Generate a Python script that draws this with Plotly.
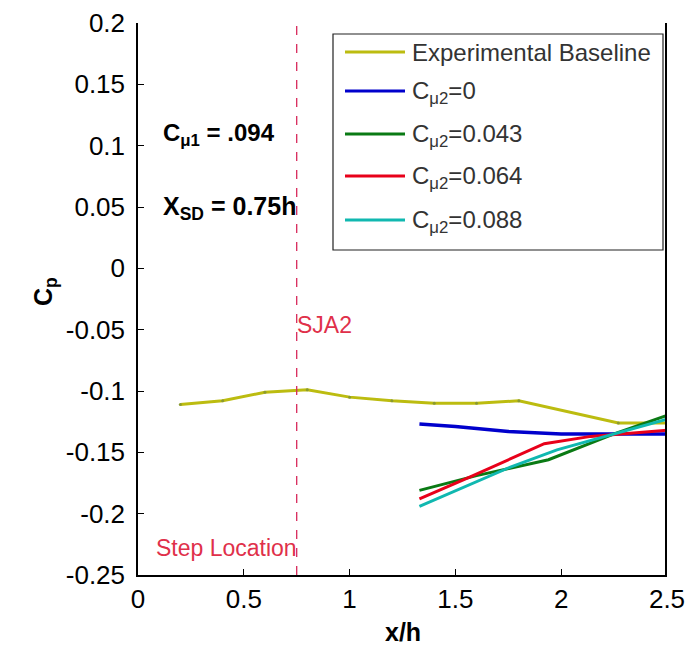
import plotly.graph_objects as go

# ---------------- data ----------------
baseline_x = [0.2, 0.4, 0.6, 0.8, 1.0, 1.2, 1.4, 1.6, 1.8, 2.27, 2.5]
baseline_y = [-0.111, -0.108, -0.101, -0.099, -0.105, -0.108, -0.110, -0.110, -0.108, -0.126, -0.126]

c0_x = [1.33, 1.5, 1.75, 2.0, 2.25, 2.5]
c0_y = [-0.127, -0.129, -0.133, -0.135, -0.135, -0.135]

c043_x = [1.33, 1.6, 1.94, 2.25, 2.5]
c043_y = [-0.181, -0.169, -0.156, -0.135, -0.120]

c064_x = [1.33, 1.57, 1.92, 2.14, 2.5]
c064_y = [-0.188, -0.170, -0.143, -0.137, -0.132]

c088_x = [1.33, 1.76, 1.98, 2.25, 2.5]
c088_y = [-0.194, -0.162, -0.148, -0.135, -0.123]

series_names = ["Experimental Baseline", "C<sub>μ2</sub>=0", "C<sub>μ2</sub>=0.043",
                "C<sub>μ2</sub>=0.064", "C<sub>μ2</sub>=0.088"]
series_colors = ["#bcbc10", "#0000cc", "#0a7a14", "#e8001a", "#10b8b0"]

x_ticks = [0, 0.5, 1, 1.5, 2, 2.5]
x_ticktext = ["0", "0.5", "1", "1.5", "2", "2.5"]
y_ticks = [-0.25, -0.2, -0.15, -0.1, -0.05, 0, 0.05, 0.1, 0.15, 0.2]
y_ticktext = ["-0.25", "-0.2", "-0.15", "-0.1", "-0.05", "0", "0.05", "0.1", "0.15", "0.2"]

step_x = 0.75

FONT = "Liberation Sans, Arial, sans-serif"

# plot-area geometry (pixels)
L, R, T, B = 138, 667, 23, 575
W, H = 693, 646


def pxx(px):
    return (px - L) / (R - L)


def pxy(py):
    return (B - py) / (B - T)


fig = go.Figure()

all_series = [(baseline_x, baseline_y), (c0_x, c0_y), (c043_x, c043_y),
              (c064_x, c064_y), (c088_x, c088_y)]
widths = [3, 3.5, 3, 3, 3]
for i, (xs, ys) in enumerate(all_series):
    fig.add_trace(go.Scatter(
        x=xs, y=ys, mode="lines+markers" if i == 0 else "lines",
        line=dict(color=series_colors[i], width=widths[i]),
        marker=dict(size=3, color="#8a9a30") if i == 0 else None,
        showlegend=False, name=series_names[i]))

shapes = []
# dashed step line
shapes.append(dict(type="line", xref="x", yref="paper", x0=step_x, x1=step_x, y0=0, y1=1,
                   line=dict(color="#d8285a", width=1.3, dash="dash")))
# thick right edge
shapes.append(dict(type="line", xref="x", yref="paper", x0=2.5, x1=2.5, y0=0, y1=1,
                   line=dict(color="black", width=4)))

# manual legend
leg_rows = [52, 91, 134, 176, 220]
shapes.append(dict(type="rect", xref="paper", yref="paper",
                   x0=pxx(333), x1=pxx(663), y0=pxy(250), y1=pxy(34),
                   line=dict(color="#222", width=1.2), fillcolor="white", layer="above"))
annotations = []
for i, row in enumerate(leg_rows):
    shapes.append(dict(type="line", xref="paper", yref="paper",
                       x0=pxx(345), x1=pxx(405), y0=pxy(row), y1=pxy(row),
                       line=dict(color=series_colors[i], width=3), layer="above"))
    annotations.append(dict(xref="paper", yref="paper", x=pxx(410), y=pxy(row),
                            xanchor="left", yanchor="middle", showarrow=False,
                            yshift=0 if i == 0 else -1,
                            text=series_names[i], font=dict(family=FONT, size=24, color="#333")))

annotations += [
    dict(x=0.11, y=0.111, xref="x", yref="y", xanchor="left", yanchor="middle",
         showarrow=False, yshift=-2, text="<b>C<sub>μ1</sub> = .094</b>",
         font=dict(family=FONT, size=24, color="black")),
    dict(x=0.11, y=0.05, xref="x", yref="y", xanchor="left", yanchor="middle",
         showarrow=False, yshift=-1, text="<b>X<sub>SD</sub> = 0.75h</b>",
         font=dict(family=FONT, size=25, color="black")),
    dict(x=step_x, y=-0.046, xref="x", yref="y", xanchor="left", yanchor="middle",
         showarrow=False, xshift=-2, text="SJA2",
         font=dict(family=FONT, size=23, color="#e0304a")),
    dict(x=step_x, y=-0.228, xref="x", yref="y", xanchor="right", yanchor="middle",
         showarrow=False, xshift=2, text="Step Location",
         font=dict(family=FONT, size=23, color="#e0304a")),
    dict(x=pxx(45), y=pxy(292), xref="paper", yref="paper", xanchor="center", yanchor="middle",
         showarrow=False, textangle=-90, text="<b>C<sub>p</sub></b>",
         font=dict(family=FONT, size=25, color="black")),
    dict(x=0.5, y=pxy(632), xref="paper", yref="paper", xanchor="center", yanchor="middle",
         showarrow=False, text="<b>x/h</b>",
         font=dict(family=FONT, size=25, color="black")),
]

fig.update_layout(
    width=W, height=H,
    margin=dict(l=L, r=W - R, t=T, b=H - B, autoexpand=False),
    paper_bgcolor="white", plot_bgcolor="white",
    font=dict(family=FONT, color="black"),
    shapes=shapes, annotations=annotations,
    xaxis=dict(range=[0, 2.5], tickvals=x_ticks, ticktext=x_ticktext, automargin=False,
               ticks="inside", ticklen=6, tickcolor="black", tickwidth=1,
               showline=True, linecolor="black", linewidth=2,
               showgrid=False, zeroline=False,
               tickfont=dict(family=FONT, size=26, color="black")),
    yaxis=dict(range=[-0.25, 0.2], tickvals=y_ticks, ticktext=y_ticktext, automargin=False,
               ticks="inside", ticklen=6, tickcolor="black", tickwidth=1,
               showline=True, linecolor="black", linewidth=1.5,
               showgrid=False, zeroline=False, ticklabelstandoff=6,
               tickfont=dict(family=FONT, size=26, color="black")),
)

fig.write_html("out.html", config={"displayModeBar": False},
               post_script="document.body.style.margin='0';document.body.style.overflow='hidden';")
